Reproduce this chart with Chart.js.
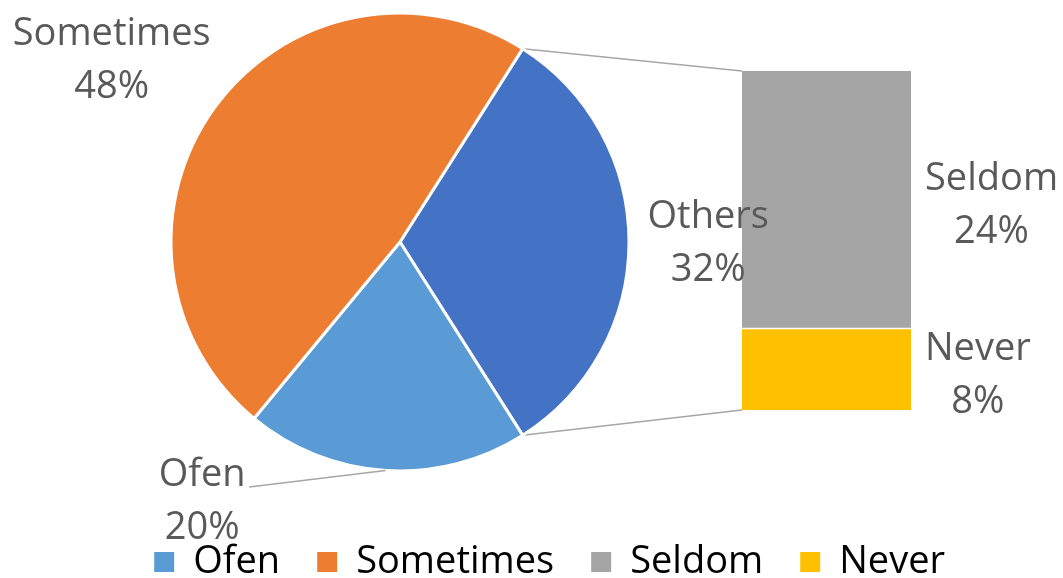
<!DOCTYPE html>
<html><head><meta charset="utf-8">
<script src="https://cdn.jsdelivr.net/npm/chart.js@4.4.0/dist/chart.umd.min.js"></script>
<style>
html,body{margin:0;padding:0;background:#fff;}
#wrap{position:relative;width:1063px;height:578px;overflow:hidden;background:#fff;}
#bar{position:absolute;left:0;top:0;}
#pie{position:absolute;left:-182px;top:-22px;}
</style></head><body>
<div id="wrap"><canvas id="bar" width="1063" height="578"></canvas><canvas id="pie" width="1245" height="613"></canvas></div>
<script>
// ---- data ----
const pieLabels = ['Others', 'Ofen', 'Sometimes'];
const pieValues = [32, 20, 48];
const barLabels = ['Never', 'Seldom'];      // stacked bottom to top
const barValues = [7.6, 24.4];
const legendLabels = ['Ofen', 'Sometimes', 'Seldom', 'Never'];

const colors = {Others:'#4472C4', Ofen:'#5B9BD5', Sometimes:'#ED7D31', Seldom:'#A5A5A5', Never:'#FFC000'};
const FAMILY = "'Open Sans', sans-serif";
const FSIZE = 38;
const TXT = '#595959';
const LINE = '#A6A6A6';
const LH = 53;
const pieTotal = pieValues.reduce((a,b)=>a+b,0);
const barTotal = barValues.reduce((a,b)=>a+b,0);
const pct = v => Math.round(v) + '%';

function drawBlock(ctx, lines, cx, y0) {
  ctx.save();
  ctx.font = FSIZE + 'px ' + FAMILY;
  ctx.fillStyle = TXT;
  ctx.textAlign = 'center';
  ctx.textBaseline = 'alphabetic';
  lines.forEach((t,i)=>ctx.fillText(t, cx, y0 + i*LH));
  ctx.restore();
}

// label placement around the pie (in radius units, first-line baseline)
const piePlace = {
  Others:    {dx: 1.346, dy: -0.061},
  Ofen:      {dx: -0.864, dy: 1.066, leader: true},
  Sometimes: {dx: -1.259, dy: -0.86}
};

const pieLabelPlugin = {
  id: 'pieLabels',
  afterDatasetsDraw(chart) {
    const ctx = chart.ctx;
    const arcs = chart.getDatasetMeta(0).data;
    arcs.forEach((arc, i) => {
      const name = pieLabels[i];
      const p = piePlace[name];
      const R = arc.outerRadius;
      const cx = arc.x + p.dx * R;
      const y0 = arc.y + p.dy * R;
      drawBlock(ctx, [name, pct(pieValues[i])], cx, y0);
      if (p.leader) {
        const mid = (arc.startAngle + arc.endAngle) / 2;
        ctx.save();
        ctx.strokeStyle = LINE; ctx.lineWidth = 1.5;
        ctx.beginPath();
        ctx.moveTo(cx + 47, y0 + 1);
        ctx.lineTo(arc.x + R * Math.cos(mid), arc.y + R * Math.sin(mid));
        ctx.stroke();
        ctx.restore();
      }
    });
  }
};

const pieChart = new Chart(document.getElementById('pie'), {
  type: 'pie',
  data: {
    labels: pieLabels,
    datasets: [{
      data: pieValues,
      backgroundColor: pieLabels.map(l => colors[l]),
      borderColor: '#ffffff',
      borderWidth: 3
    }]
  },
  options: {
    responsive: false, animation: false, devicePixelRatio: 1,
    rotation: 90 - (pieValues[0] / pieTotal) * 180,
    radius: 229,
    layout: {padding: {left: 0, right: 81, top: 0, bottom: 0}},
    plugins: {
      legend: {
        position: 'bottom', align: 'end',
        labels: {
          boxWidth: 20, boxHeight: 20, padding: 37, color: TXT,
          font: {family: FAMILY, size: FSIZE},
          generateLabels: () => legendLabels.map(l => ({
            text: l, fillStyle: colors[l], strokeStyle: colors[l], lineWidth: 0, hidden: false
          }))
        }
      },
      tooltip: {enabled: false}
    }
  },
  plugins: [pieLabelPlugin]
});

// page offset of the pie canvas relative to the bar canvas
const pieCanvas = document.getElementById('pie');
const offX = pieCanvas.offsetLeft, offY = pieCanvas.offsetTop;

const barExtras = {
  id: 'barExtras',
  afterDatasetsDraw(chart) {
    const ctx = chart.ctx;
    // connector lines from the "Others" slice to the stacked bar
    const others = pieChart.getDatasetMeta(0).data[0];
    const R = others.outerRadius;
    const ox = others.x + offX, oy = others.y + offY;
    const topBar = chart.getDatasetMeta(barLabels.length - 1).data[0];
    const botBar = chart.getDatasetMeta(0).data[0];
    const left = topBar.x - topBar.width / 2;
    ctx.save();
    ctx.strokeStyle = LINE; ctx.lineWidth = 1.5;
    ctx.beginPath();
    ctx.moveTo(ox + R * Math.cos(others.startAngle), oy + R * Math.sin(others.startAngle));
    ctx.lineTo(left, topBar.y);
    ctx.moveTo(ox + R * Math.cos(others.endAngle), oy + R * Math.sin(others.endAngle));
    ctx.lineTo(left, botBar.base);
    ctx.stroke();
    ctx.restore();
    // bar labels
    ctx.save();
    ctx.font = FSIZE + 'px ' + FAMILY;
    barLabels.forEach((name, i) => {
      const el = chart.getDatasetMeta(i).data[0];
      const lines = [name, pct(barValues[i])];
      const w = Math.max(...lines.map(t => ctx.measureText(t).width));
      const x0 = el.x + el.width / 2 + 14;
      const mid = (el.y + el.base) / 2;
      drawBlock(ctx, lines, x0 + w / 2, mid - 10);
    });
    ctx.restore();
  }
};

const barChart = new Chart(document.getElementById('bar'), {
  type: 'bar',
  data: {
    labels: ['Others'],
    datasets: barLabels.map((l, i) => ({
      label: l,
      data: [barValues[i]],
      backgroundColor: colors[l],
      borderColor: '#ffffff',
      borderWidth: l === 'Seldom' ? {top: 0, left: 0, right: 0, bottom: 2} : 0,
      borderSkipped: false,
      barPercentage: 1, categoryPercentage: 1
    }))
  },
  options: {
    responsive: false, animation: false, devicePixelRatio: 1,
    layout: {padding: {left: 742, right: 152, top: 71, bottom: 168}},
    scales: {
      x: {display: false, stacked: true},
      y: {display: false, stacked: true, min: 0, max: barTotal}
    },
    plugins: {legend: {display: false}, tooltip: {enabled: false}}
  },
  plugins: [barExtras]
});
</script>
</body></html>
